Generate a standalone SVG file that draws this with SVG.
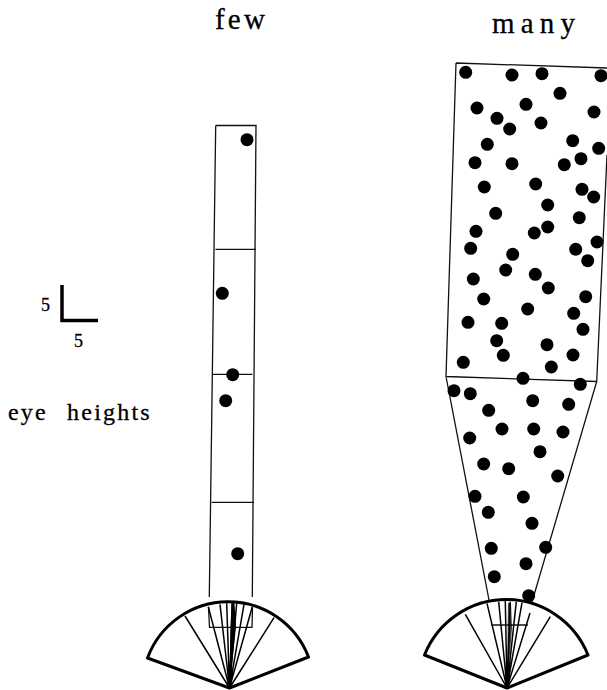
<svg xmlns="http://www.w3.org/2000/svg" width="607" height="690" viewBox="0 0 607 690">
<style>
.bg{fill:#fff}
.o{fill:none;stroke:#111;stroke-width:1.3}
.f{fill:none;stroke:#000;stroke-width:1.5}
.fan{fill:none;stroke:#000;stroke-width:3;stroke-linejoin:round}
.w{fill:#000}
circle{fill:#000}
text{font-family:"Liberation Serif","Times New Roman",serif;fill:#000;stroke:#000;stroke-width:0.3}
</style>
<rect class="bg" width="607" height="690"/>
<g id="labels">
<text x="215" y="29" font-size="29" letter-spacing="3.200">few</text>
<text x="492" y="33" font-size="29" letter-spacing="6.200">many</text>
<text x="41" y="311" font-size="18">5</text>
<text x="74" y="347" font-size="18">5</text>
<text x="8" y="420" font-size="24" letter-spacing="2.200" word-spacing="11">eye heights</text>
</g>
<g id="scale"><path d="M62 285V320.500H98" fill="none" stroke="#000" stroke-width="3.500"/></g>
<g id="few-column">
<path class="o" d="M215.700 125.500H256L252.300 597M215.700 125.500L209.300 597M215.500 249.300H256M213 374.300H252.500M211.700 502.300H254"/>
<path class="o" d="M208.500 607L209.500 627.300H252L252.500 607"/>
<g id="few-dots">
<circle cx="247" cy="139.700" r="6.500"/><circle cx="222.300" cy="293.300" r="6.500"/><circle cx="232.700" cy="374.700" r="6.500"/><circle cx="225.700" cy="400.700" r="6.500"/><circle cx="237.700" cy="553.700" r="6.500"/>
</g>
</g>
<g id="few-fan">
<path class="fan" d="M147.500 658A86 86 0 0 1 308.500 657L229.500 688Z"/>
<path class="f" d="M229.500 688L185 616M229.500 688L274 617.700M229.500 688L208.300 606.700M229.500 688L220 604.300M229.500 688L226.700 603.300M229.500 688L232.300 602.300M229.500 688L236.700 603M229.500 688L244 604.300M229.500 688L252.300 606.700"/>
<path class="w" d="M229.500 688L230.500 627L231.500 603H234.500L236 627Z"/>
</g>
<g id="many-column">
<path class="o" d="M456 63L607 68M456 63L446 376.500L596.700 381.500L607 155M446 376.500L489 600M596.700 381.500L531.700 603"/>
<g id="many-dots">
<circle cx="465.700" cy="72.300" r="6.500"/><circle cx="512" cy="75" r="6.500"/><circle cx="542" cy="73.700" r="6.500"/><circle cx="601" cy="75.700" r="6.500"/><circle cx="560" cy="93.300" r="6.500"/><circle cx="477" cy="108" r="6.500"/><circle cx="526" cy="104.300" r="6.500"/><circle cx="594" cy="112" r="6.500"/><circle cx="497" cy="118.300" r="6.500"/><circle cx="509.700" cy="129" r="6.500"/><circle cx="541" cy="123" r="6.500"/><circle cx="572.700" cy="140.700" r="6.500"/><circle cx="487.300" cy="144.300" r="6.500"/><circle cx="598.700" cy="148.300" r="6.500"/><circle cx="475" cy="162.700" r="6.500"/><circle cx="512" cy="163.700" r="6.500"/><circle cx="581" cy="158.700" r="6.500"/><circle cx="564.300" cy="164.700" r="6.500"/><circle cx="484.300" cy="187" r="6.500"/><circle cx="535.700" cy="184" r="6.500"/><circle cx="582" cy="189.300" r="6.500"/><circle cx="593.700" cy="197" r="6.500"/><circle cx="547.700" cy="205" r="6.500"/><circle cx="495.700" cy="213.300" r="6.500"/><circle cx="579.300" cy="217.700" r="6.500"/>
<circle cx="476" cy="231.300" r="6.500"/><circle cx="470.700" cy="248.300" r="6.500"/><circle cx="534.300" cy="233" r="6.500"/><circle cx="547.700" cy="227" r="6.500"/><circle cx="597" cy="242" r="6.500"/><circle cx="575.700" cy="249.300" r="6.500"/><circle cx="587.700" cy="260.700" r="6.500"/><circle cx="512.700" cy="254.300" r="6.500"/><circle cx="505.700" cy="270" r="6.500"/><circle cx="535.300" cy="274.300" r="6.500"/><circle cx="473.300" cy="279" r="6.500"/><circle cx="548.300" cy="288" r="6.500"/><circle cx="585.700" cy="296.700" r="6.500"/><circle cx="483.700" cy="299" r="6.500"/><circle cx="527.700" cy="309" r="6.500"/><circle cx="573.700" cy="313.300" r="6.500"/><circle cx="468" cy="322.300" r="6.500"/><circle cx="501.700" cy="323.300" r="6.500"/><circle cx="583" cy="329.300" r="6.500"/><circle cx="496.700" cy="340.700" r="6.500"/><circle cx="547" cy="344.700" r="6.500"/><circle cx="573" cy="355" r="6.500"/><circle cx="503.300" cy="355.300" r="6.500"/><circle cx="463.300" cy="362.300" r="6.500"/><circle cx="551.300" cy="367" r="6.500"/><circle cx="523" cy="378.300" r="6.500"/><circle cx="580.300" cy="384.300" r="6.500"/>
<circle cx="454" cy="390.700" r="6.500"/><circle cx="470.300" cy="393.700" r="6.500"/><circle cx="488.700" cy="410.300" r="6.500"/><circle cx="532.700" cy="400.700" r="6.500"/><circle cx="568.700" cy="404.300" r="6.500"/><circle cx="502" cy="429" r="6.500"/><circle cx="533.700" cy="429" r="6.500"/><circle cx="563" cy="432" r="6.500"/><circle cx="469.700" cy="438" r="6.500"/><circle cx="540" cy="451.700" r="6.500"/><circle cx="483.700" cy="464" r="6.500"/><circle cx="508.700" cy="468.700" r="6.500"/><circle cx="557.700" cy="476" r="6.500"/><circle cx="475" cy="496.300" r="6.500"/><circle cx="523.300" cy="497" r="6.500"/><circle cx="488.300" cy="512.300" r="6.500"/><circle cx="532" cy="523.300" r="6.500"/><circle cx="491.300" cy="548.300" r="6.500"/><circle cx="545.700" cy="547.300" r="6.500"/><circle cx="526" cy="563.700" r="6.500"/><circle cx="494.300" cy="576.700" r="6.500"/><circle cx="528.700" cy="595.700" r="6.500"/>
</g>
</g>
<g id="many-fan">
<path class="fan" d="M424.500 655A88 88 0 0 1 588 655L507 688Z"/>
<path class="f" d="M507 688L465.300 614.300M507 688L550.300 616.700M507 688L487 603.300M507 688L498.700 601.700M507 688L505.300 601M507 688L510.300 601.700M507 688L516.300 601.700M507 688L522 602.700M507 688L530 613"/>
<path class="o" d="M491 625H528"/>
<path class="w" d="M507 688L508 603H511L512 628Z" fill-opacity="0.750"/>
</g>
</svg>
